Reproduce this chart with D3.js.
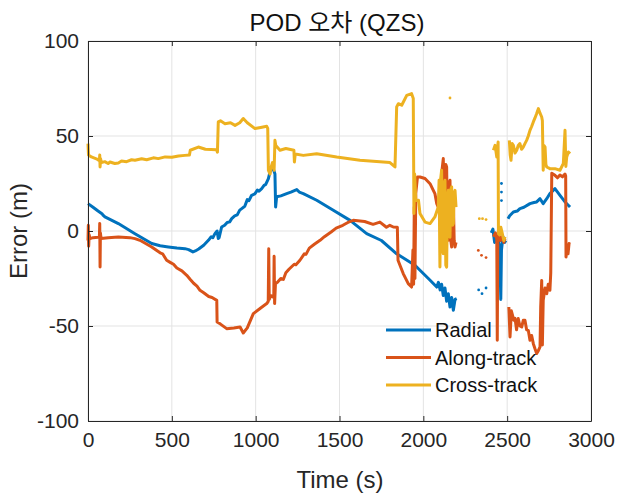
<!DOCTYPE html>
<html><head><meta charset="utf-8">
<script src="https://cdn.jsdelivr.net/npm/d3@7"></script>
<style>body{margin:0;background:#fff} svg{display:block}</style>
</head><body><svg id="c" width="619" height="497"></svg>
<script>
const xTicks = [0, 500, 1000, 1500, 2000, 2500, 3000];
const yTicks = [-100, -50, 0, 50, 100];
const seriesNames = ["Radial", "Along-track", "Cross-track"];
const seriesColors = ["#0072BD", "#D95319", "#EDB120"];

// [time (s), error (m)]; null = gap
const radialData = [[0,14.4],[30,12.5],[60,10.5],[85,9],[88,8.5],[101,7.4],[181,3.9],[280,-1.4],[380,-6.6],[430,-7.8],[479,-8.4],[530,-9],[578,-9.3],[600,-9.8],[626,-11],[640,-10.5],[660,-9.5],[690,-7.5],[718,-4.9],[735,-3],[745,-3.5],[757,-1.4],[770,0],[777,-4],[782,-3.5],[797,2.1],[815,3],[830,4.5],[845,4.8],[857,6.5],[875,8],[890,8.5],[905,11],[917,11.8],[935,13],[950,16.5],[960,16],[976,18.8],[995,19.5],[1010,21.5],[1020,21],[1036,22.3],[1050,24],[1060,24.5],[1076,27.6],[1085,31],[1101,33.4],[1105,32.8],[1115,30],[1119,12.6],[1125,18],[1150,18.5],[1185,19.7],[1210,20.5],[1245,21.8],[1260,20.5],[1284,19.7],[1364,16.2],[1463,10.9],[1563,5.6],[1662,-1.4],[1750,-5],[1841,-12],[1950,-18],[2030,-25],[2080,-29.5],[2090,-27],[2100,-31],[2109,-28],[2119,-34],[2129,-30],[2139,-37],[2149,-33],[2159,-40],[2169,-35],[2179,-41.7],[2189,-36],[2199,-35.6],[2300,null],
[2405,-1],[2415,1],[2425,-6],[2435,-2],[2445,-4],[2455,-8],[2462,-36],[2466,-10],[2475,-3],[2485,-6],[2492,-5],[2500,null],
[2505,6.5],[2515,8],[2537,10],[2560,10.5],[2576,11.8],[2600,12.5],[2636,14.4],[2660,15],[2676,15.3],[2696,17],[2715,14.4],[2736,17],[2755,19.7],[2785,22.3],[2815,18.8],[2845,15.3],[2875,12.6]];

const alongData = [[0,-5],[2,3],[4,-8],[7,-2],[12,-4],[30,-3.5],[60,-3.3],[68,-3],[70,4],[72,-19],[74,-1],[78,-4],[120,-3.5],[181,-3.2],[250,-3.5],[280,-4],[310,-4.9],[380,-8.4],[430,-11.5],[445,-12],[469,-15.4],[490,-16.5],[510,-17.5],[530,-19.5],[560,-21],[589,-23.3],[610,-25.5],[630,-27.5],[650,-29],[668,-31.2],[690,-32.5],[720,-34.5],[740,-35],[768,-36.5],[770,-47.9],[790,-49],[827,-51.4],[870,-51],[907,-50.5],[926,-53.7],[950,-51],[986,-43.5],[1030,-40.5],[1066,-38.2],[1075,-37],[1078,-9.3],[1081,-36],[1090,-34],[1108,-35],[1110,-13.3],[1113,-38.2],[1118,-27.7],[1130,-27],[1150,-25],[1165,-25.5],[1180,-22],[1200,-20],[1230,-17.5],[1240,-17.8],[1264,-15.4],[1290,-12],[1300,-12.3],[1320,-9],[1350,-7],[1384,-4.9],[1410,-3],[1450,-0.5],[1480,1.5],[1520,3],[1550,4.5],[1582,5.6],[1650,5],[1700,3.5],[1741,4.7],[1780,2],[1800,3],[1821,2.1],[1845,2],[1849,-15.4],[1880,-22.4],[1910,-27.7],[1930,-29.5],[1938,-10],[1942,-28],[1946,12.6],[1950,-25],[1955,20],[1965,28.4],[1980,28.4],[2010,27.6],[2040,24.9],[2069,19.7],[2080,14.4],[2089,12.6],[2099,10],[2109,30],[2119,38.1],[2124,5],[2129,0.4],[2134,35],[2139,33.7],[2144,0],[2149,-4.9],[2154,25],[2159,26.7],[2164,-5],[2169,-8.4],[2174,10],[2179,16.2],[2184,-5],[2189,-8.4],[2195,-6],[2300,null],
[2418,-3],[2430,-1],[2438,-4],[2441,-57.5],[2444,-3],[2450,-2],[2460,-5],[2470,-3],[2480,-6],[2487,-4],[2500,null],
[2510,-40],[2517,-55.8],[2525,-42],[2540,-47],[2547,-46],[2556,-52],[2566,-46.1],[2576,-50],[2587,-50.5],[2596,-47],[2606,-47],[2616,-52],[2626,-52.3],[2636,-57.5],[2646,-55],[2656,-59.3],[2666,-62],[2676,-64.5],[2686,-63],[2696,-61],[2700,-40],[2706,-26],[2710,-60],[2715,-36.5],[2726,-30],[2736,-33],[2745,-28],[2755,-31.2],[2760,-22],[2766,30.4],[2785,29.3],[2800,28],[2815,29.5],[2830,28.5],[2845,30],[2849,29],[2851,-13.7],[2857,-8],[2863,-12],[2869,-6.6],[2875,-7]];

const crossData = [[0,46],[3,40],[20,39],[50,38],[68,37],[70,40],[72,33.7],[75,38],[80,36],[100,36.5],[120,35.5],[131,36.3],[160,35.5],[181,35.8],[200,36.8],[230,36.5],[260,37.5],[280,37.2],[320,38],[350,37.5],[390,38.5],[419,38.1],[460,39],[500,38.8],[540,39.5],[578,39.8],[605,40],[610,42.5],[658,44.2],[700,43],[767,42.8],[772,41.5],[777,57.4],[790,58],[817,56.5],[850,57],[877,55.6],[905,57],[926,59.2],[950,57],[996,53.9],[1030,54.5],[1066,55.1],[1072,54],[1076,31.9],[1086,30],[1090,33],[1100,36],[1110,32],[1115,47.7],[1120,45],[1145,42.5],[1180,43.4],[1228,42.5],[1231,36.3],[1236,40.5],[1284,39.8],[1364,40.7],[1483,38.9],[1622,37.2],[1801,36],[1831,33.7],[1841,65.3],[1851,67],[1871,66.2],[1901,71.4],[1930,72.3],[1940,69.7],[1944,9.2],[1948,30],[1955,16],[1971,16.2],[1980,9.2],[2010,4.7],[2040,3.9],[2069,7.4],[2089,12.6],[2094,26.7],[2099,-19],[2104,28],[2109,32],[2114,-10],[2119,-11.9],[2124,25],[2129,26.7],[2134,-18],[2139,-19],[2144,18],[2149,21.4],[2154,-3],[2159,-3.2],[2164,22],[2169,23.2],[2174,3],[2179,3.9],[2184,20],[2189,21.4],[2195,12.6],[2300,null],
[2418,42.5],[2428,45.1],[2438,38.9],[2446,46.8],[2448,-1.4],[2455,-2],[2462,2],[2470,-1],[2480,-5],[2487,-3],[2500,null],
[2513,47.7],[2518,40],[2523,37.2],[2530,46],[2537,45.1],[2547,41],[2557,42.5],[2566,45],[2576,46],[2586,43],[2596,44.2],[2606,46],[2616,47.7],[2626,50],[2636,53],[2646,55],[2656,57.4],[2666,59.5],[2676,61.8],[2686,64.4],[2696,62],[2706,60],[2710,58],[2715,32],[2720,45],[2726,44.2],[2731,35],[2736,33.7],[2755,32.8],[2785,32.8],[2815,32],[2835,35.5],[2845,53],[2850,34],[2855,38.9],[2865,41.6],[2875,40.7]];

// isolated samples inside the data gaps
const radialDots = [[2330,-31],[2350,-33],[2374,-30],[2466,25],[2466,20.5],[2466,16]];
const alongDots = [[2328,-10.2],[2347,-12.8],[2374,-14]];
const crossDots = [[2159,70],[2334,6.5],[2353,6.5],[2374,6]];

const svg = d3.select("#c");
const L = 88, R = 591, T = 41, B = 421;
const x = d3.scaleLinear().domain([0, 3000]).range([L, R]);
const y = d3.scaleLinear().domain([-100, 100]).range([B, T]);
const axisColor = "#262626";
const font = "'Liberation Sans', Arial, 'Noto Sans CJK KR', sans-serif";
const fmt = d => String(d);

// grid
const g = svg.append("g");
g.selectAll(".gx").data(xTicks).join("line")
  .attr("x1", d => x(d)).attr("x2", d => x(d)).attr("y1", T).attr("y2", B)
  .attr("stroke", "#e3e3e3").attr("stroke-width", 1);
g.selectAll(".gy").data(yTicks).join("line")
  .attr("y1", d => y(d)).attr("y2", d => y(d)).attr("x1", L).attr("x2", R)
  .attr("stroke", "#e3e3e3").attr("stroke-width", 1);

// series
const line = d3.line().defined(d => d[1] !== null).x(d => x(d[0])).y(d => y(d[1]));
const datasets = [radialData, alongData, crossData];
const dots = [radialDots, alongDots, crossDots];
datasets.forEach((data, i) => {
  svg.append("path").datum(data).attr("d", line)
    .attr("fill", "none").attr("stroke", seriesColors[i])
    .attr("stroke-width", 3).attr("stroke-linejoin", "round").attr("stroke-linecap", "butt");
});
dots.forEach((data, i) => {
  svg.append("g").selectAll("circle").data(data).join("circle")
    .attr("cx", d => x(d[0])).attr("cy", d => y(d[1])).attr("r", 1.4)
    .attr("fill", seriesColors[i]);
});

// axes
function styleAxis(sel) {
  sel.selectAll("path").attr("stroke", axisColor).attr("stroke-width", 1);
  sel.selectAll("line").attr("stroke", axisColor).attr("stroke-width", 1);
  sel.selectAll("text").attr("fill", axisColor).style("font-family", font).style("font-size", "21px");
}
svg.append("g").attr("transform", `translate(0,${B})`)
  .call(d3.axisBottom(x).tickValues(xTicks).tickSize(-5).tickSizeOuter(0).tickPadding(11).tickFormat(fmt))
  .call(styleAxis);
svg.append("g").attr("transform", `translate(0,${T})`)
  .call(d3.axisTop(x).tickValues(xTicks).tickSize(-5).tickSizeOuter(0).tickFormat(""))
  .call(styleAxis);
svg.append("g").attr("transform", `translate(${L},0)`)
  .call(d3.axisLeft(y).tickValues(yTicks).tickSize(-5).tickSizeOuter(0).tickPadding(9).tickFormat(fmt))
  .call(styleAxis);
svg.append("g").attr("transform", `translate(${R},0)`)
  .call(d3.axisRight(y).tickValues(yTicks).tickSize(-5).tickSizeOuter(0).tickFormat(""))
  .call(styleAxis);

// title & labels
svg.append("text").attr("x", 337).attr("y", 31).attr("text-anchor", "middle")
  .style("font-family", font).style("font-size", "24px").attr("fill", "#111")
  .text("POD 오차 (QZS)");
svg.append("text").attr("x", 340).attr("y", 488).attr("text-anchor", "middle")
  .style("font-family", font).style("font-size", "24px").attr("fill", axisColor)
  .text("Time (s)");
svg.append("text").attr("transform", "translate(27,231) rotate(-90)").attr("text-anchor", "middle")
  .style("font-family", font).style("font-size", "24px").attr("fill", axisColor)
  .text("Error (m)");

// legend
const lg = svg.append("g");
seriesNames.forEach((name, i) => {
  const yy = 330 + i * 27.5;
  lg.append("line").attr("x1", 386).attr("x2", 431).attr("y1", yy).attr("y2", yy)
    .attr("stroke", seriesColors[i]).attr("stroke-width", 3);
  lg.append("text").attr("x", 435).attr("y", yy + 7)
    .style("font-family", font).style("font-size", "20px").attr("fill", "#111")
    .text(name);
});
</script></body></html>
